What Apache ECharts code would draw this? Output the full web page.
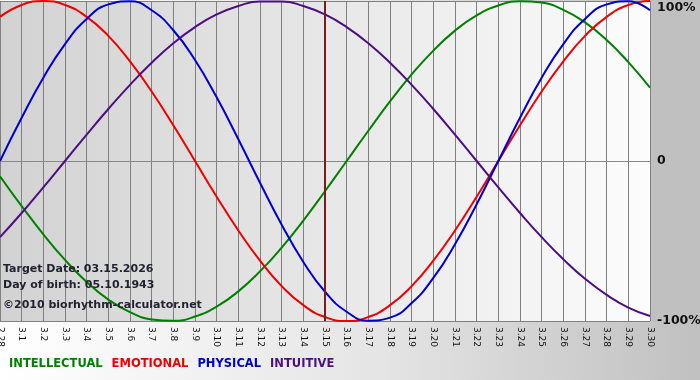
<!DOCTYPE html>
<html>
<head>
<meta charset="utf-8">
<script src="https://cdn.jsdelivr.net/npm/echarts@6/dist/echarts.min.js"></script>
<style>html,body{margin:0;padding:0;}#c{width:700px;height:380px;}</style>
</head>
<body>
<div id="c"></div>
<script>
var days = ['2.28','3.1','3.2','3.3','3.4','3.5','3.6','3.7','3.8','3.9','3.10','3.11','3.12','3.13','3.14','3.15','3.16','3.17','3.18','3.19','3.20','3.21','3.22','3.23','3.24','3.25','3.26','3.27','3.28','3.29','3.30'];
var intellectual = [-9.5,-28.2,-45.8,-61.8,-75.6,-86.6,-94.5,-99.0,-99.9,-97.2,-91.0,-81.5,-69.0,-54.1,-37.2,-18.9,0,18.9,37.2,54.1,69.0,81.5,91.0,97.2,99.9,99.0,94.5,86.6,75.6,61.8,45.8];
var emotional = [90.1,97.5,100,97.5,90.1,78.2,62.3,43.4,22.3,0,-22.3,-43.4,-62.3,-78.2,-90.1,-97.5,-100,-97.5,-90.1,-78.2,-62.3,-43.4,-22.3,0,22.3,43.4,62.3,78.2,90.1,97.5,100];
var physical = [0,27.0,52.0,73.1,88.8,97.9,99.8,94.2,81.7,63.1,39.8,13.6,-13.6,-39.8,-63.1,-81.7,-94.2,-99.8,-97.9,-88.8,-73.1,-52.0,-27.0,0,27.0,52.0,73.1,88.8,97.9,99.8,94.2];
var intuitive = [-47.6,-32.5,-16.5,0,16.5,32.5,47.6,61.4,73.6,83.7,91.6,96.9,99.7,99.7,96.9,91.6,83.7,73.6,61.4,47.6,32.5,16.5,0,-16.5,-32.5,-47.6,-61.4,-73.6,-83.7,-91.6,-96.9];
var targetDay = '3.15';
var infoLines = ['Target Date: 03.15.2026', 'Day of birth: 05.10.1943', '\u00a92010 biorhythm-calculator.net'];
var seriesNames = ['INTELLECTUAL','EMOTIONAL','PHYSICAL','INTUITIVE'];
var colors = ['#008000','#ee0000','#0000cc','#4b0f82'];

var chart = echarts.init(document.getElementById('c'), null, {renderer:'canvas'});
var font = 'Verdana, "DejaVu Sans", sans-serif';
function mk(i, data){
  return {name: seriesNames[i], type:'line', data: data, smooth: 0.5, symbol:'none',
    lineStyle:{color: colors[i], width: 2}, itemStyle:{color: colors[i]}, z: 3};
}
var s = [mk(0,intellectual), mk(1,emotional), mk(2,physical), mk(3,intuitive)];
s[3].markLine = {silent:true, symbol:'none', label:{show:false},
  lineStyle:{color:'#7a1c1c', width:2, type:'solid'}, data:[{xAxis: targetDay}]};
chart.setOption({
  animation:false,
  backgroundColor: {type:'linear', x:0, y:0, x2:1, y2:0, colorStops:[{offset:0,color:'#ffffff'},{offset:0.55,color:'#e4e4e4'},{offset:1,color:'#c0c0c0'}]},
  grid:{left:0, right:50, top:1, bottom:59, show:true, borderWidth:0, outerBoundsMode:'none', containLabel:false,
    backgroundColor:{type:'linear', x:0, y:0, x2:1, y2:0, colorStops:[{offset:0,color:'#d2d2d2'},{offset:1,color:'#fcfcfc'}]}},
  graphic:[
    {type:'rect', right:0, top:0, shape:{width:49, height:322}, style:{fill:'#c0c0c0'}, z:-1},
    {type:'text', left:3, top:264, style:{text: infoLines[0], font:'bold 11px '+font, fill:'#222233'}, z:10},
    {type:'text', left:3, top:280, style:{text: infoLines[1], font:'bold 11px '+font, fill:'#222233'}, z:10},
    {type:'text', left:3, top:300, style:{text: infoLines[2], font:'bold 11px '+font, fill:'#222233'}, z:10}
  ],
  legend:{left:4, top:353, icon:'rect', itemWidth:0, itemHeight:0, itemGap:9, selectedMode:false,
    data: seriesNames.map(function(n,i){return {name:n, textStyle:{color:colors[i]}};}),
    textStyle:{fontFamily:font, fontWeight:'bold', fontSize:11.5, padding:[0,0,0,-5]}},
  xAxis:{type:'category', data: days, boundaryGap:false,
    axisLine:{show:true, lineStyle:{color:'#888888', width:1}},
    axisTick:{show:false},
    axisLabel:{rotate:-90, interval:0, color:'#111111', fontSize:9, fontFamily:font, margin:6},
    splitLine:{show:true, interval:0, lineStyle:{color:'#808080', width:1}}},
  yAxis:{type:'value', position:'right', min:-100, max:100, interval:100,
    axisLine:{show:false}, axisTick:{show:false},
    axisLabel:{formatter:function(v){return v===0?'0':v+'%';}, color:'#111111', fontWeight:'bold', fontSize:12.5, fontFamily:font, margin:7, verticalAlignMaxLabel:'top'},
    splitLine:{show:true, lineStyle:{color:'#808080', width:1}}},
  series: s
});
</script>
</body>
</html>
